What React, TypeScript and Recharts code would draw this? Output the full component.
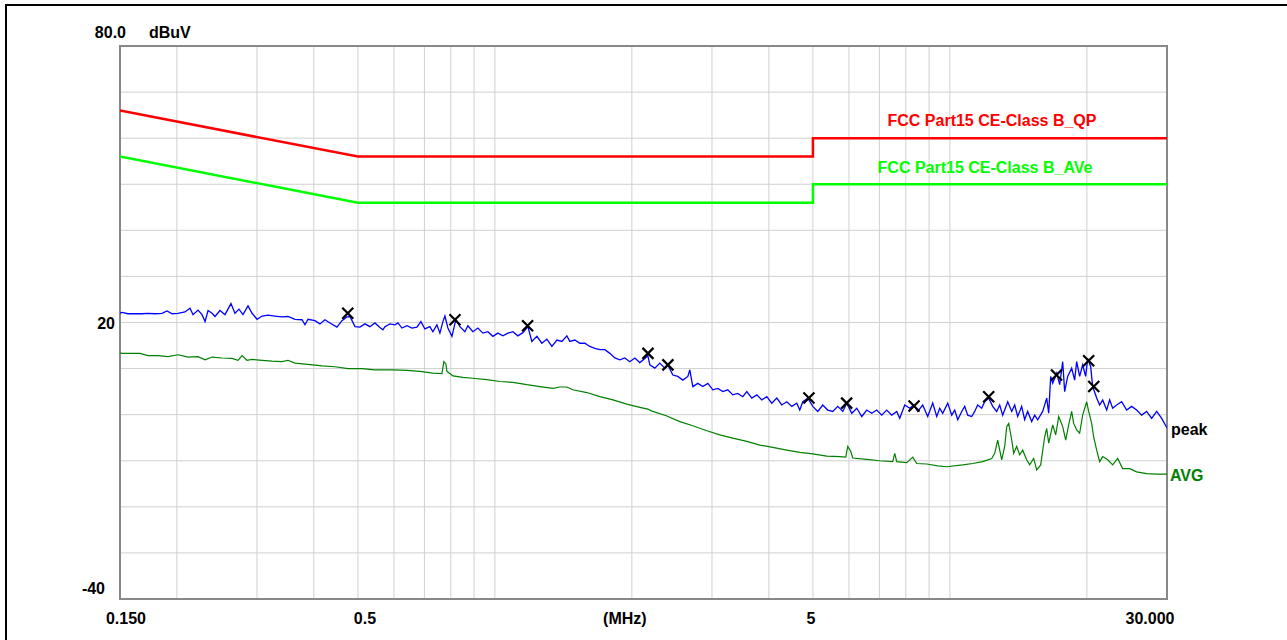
import { ComposedChart, Line, Scatter, XAxis, YAxis, CartesianGrid, ReferenceArea, Customized } from "recharts"

// axis ticks (MHz / dBuV)
const xTicks = [0.15, 0.2, 0.3, 0.4, 0.5, 0.6, 0.7, 0.8, 0.9, 1, 2, 3, 4, 5, 6, 7, 8, 9, 10, 20, 30]
const yTicks = [-40, -30, -20, -10, 0, 10, 20, 30, 40, 50, 60, 70, 80]

// FCC Part15 class B limits
const qpFreq = [0.15, 0.5, 5, 5, 30]
const qpLevel = [66, 56, 56, 60, 60]
const aveFreq = [0.15, 0.5, 5, 5, 30]
const aveLevel = [56, 46, 46, 50, 50]

// peak detector trace
const peakFreq = [
  0.15, 0.1515, 0.1562, 0.1618, 0.1677, 0.1728, 0.1791, 0.1856, 0.1903, 0.1952, 0.2012, 0.2084, 0.2138, 0.2171,
  0.2226, 0.2272, 0.2307, 0.2342, 0.239, 0.2426, 0.2488, 0.2552, 0.263, 0.2684, 0.2739, 0.2795, 0.2867, 0.2926,
  0.3001, 0.3078, 0.3172, 0.3286, 0.3405, 0.351, 0.3636, 0.3768, 0.3825, 0.3884, 0.4023, 0.4126, 0.4232, 0.434,
  0.4497, 0.4612, 0.473, 0.4803, 0.4926, 0.5052, 0.5181, 0.5313, 0.5449, 0.5589, 0.5674, 0.5732, 0.5879, 0.603,
  0.6122, 0.6248, 0.6409, 0.6572, 0.674, 0.6877, 0.7017, 0.7197, 0.7307, 0.7457, 0.7571, 0.7687, 0.7765, 0.7884,
  0.8046, 0.821, 0.8377, 0.8592, 0.8723, 0.8946, 0.9175, 0.941, 0.9652, 0.9899, 1.0153, 1.0414, 1.0682, 1.0955,
  1.1234, 1.1521, 1.1816, 1.2057, 1.2367, 1.2684, 1.3009, 1.3343, 1.3687, 1.4036, 1.4394, 1.4613, 1.4987, 1.5371,
  1.5766, 1.6169, 1.6584, 1.701, 1.7446, 1.7892, 1.835, 1.8818, 1.93, 1.9795, 2.0303, 2.0822, 2.1357, 2.1684,
  2.1904, 2.2467, 2.3041, 2.363, 2.3993, 2.4605, 2.5235, 2.5882, 2.6548, 2.6815, 2.7227, 2.7925, 2.8642, 2.9379,
  3.013, 3.0898, 3.1685, 3.2497, 3.333, 3.4188, 3.5062, 3.578, 3.6698, 3.7643, 3.8604, 3.9587, 4.06, 4.1641,
  4.2706, 4.3803, 4.4924, 4.6078, 4.6781, 4.7501, 4.8722, 4.9968, 5.1242, 5.2548, 5.3894, 5.5275, 5.6699, 5.8148,
  5.9338, 6.086, 6.2428, 6.4022, 6.5653, 6.733, 6.9056, 7.0822, 7.2642, 7.4501, 7.6414, 7.7581, 7.9573, 8.1606,
  8.3286, 8.4965, 8.7145, 8.9377, 9.1669, 9.3549, 9.4973, 9.6432, 9.8904, 10.093, 10.247, 10.405, 10.617, 10.778,
  10.943, 11.166, 11.336, 11.51, 11.745, 11.925, 12.169, 12.418, 12.672, 12.866, 13.063, 13.4, 13.673, 13.879,
  14.093, 14.379, 14.598, 14.822, 15.125, 15.357, 15.593, 15.992, 16.32, 16.486, 16.654, 16.823, 17.169, 17.428,
  17.697, 17.874, 18.148, 18.518, 18.8, 18.993, 19.282, 19.578, 19.876, 20.082, 20.388, 20.595, 21.017, 21.337,
  21.665, 22.111, 22.444, 22.791, 23.253, 23.848, 24.459, 25.085, 25.729, 26.388, 27.065, 27.759, 28.475, 29.202,
  30,
]
const peakLevel = [
  22.0, 22.2, 21.9, 21.9, 21.9, 22.0, 21.9, 22.0, 22.5, 21.9, 22.0, 22.3, 23.1, 21.7,
  22.7, 21.7, 20.2, 22.6, 22.0, 21.3, 22.6, 21.7, 24.1, 22.0, 22.9, 21.7, 23.6, 22.0,
  20.7, 21.4, 21.6, 21.4, 21.2, 21.3, 20.7, 20.6, 19.5, 20.7, 20.4, 19.7, 20.6, 19.9,
  19.0, 20.4, 21.2, 21.3, 19.1, 19.0, 19.7, 19.1, 19.9, 18.9, 18.4, 19.1, 19.7, 19.5,
  19.9, 18.8, 19.3, 18.8, 19.0, 20.2, 18.6, 19.1, 18.0, 19.5, 17.7, 20.2, 21.4, 18.8,
  17.0, 20.7, 19.1, 18.0, 19.3, 18.0, 18.8, 17.7, 18.0, 17.0, 17.7, 17.1, 17.7, 18.0,
  17.1, 17.8, 19.1, 15.9, 17.0, 15.5, 16.4, 14.8, 16.2, 15.9, 17.1, 15.9, 16.2, 15.5,
  15.5, 14.8, 14.4, 14.1, 14.1, 13.3, 12.3, 11.9, 12.3, 11.5, 12.3, 11.3, 12.2, 12.8,
  10.8, 10.1, 11.2, 10.1, 10.8, 8.6, 8.3, 7.5, 8.3, 9.7, 6.1, 6.8, 6.1, 6.8,
  5.4, 5.7, 5.0, 5.4, 4.3, 4.6, 3.9, 5.0, 3.6, 4.3, 3.2, 3.9, 2.5, 3.6,
  2.1, 2.8, 1.8, 2.5, 1.0, 2.8, 3.6, 1.8, 0.7, 2.1, 1.0, 0.7, 1.8, 0.7,
  2.5, 0.3, 1.4, -0.4, 1.0, 0.3, 1.0, -0.1, 1.0, -0.1, 0.7, -0.8, 2.1, 1.4,
  2.1, 0.7, 2.1, -0.4, 2.5, -0.4, 1.4, 0.3, 2.5, -0.1, 1.0, -1.1, 0.7, 1.8,
  -0.1, -0.4, 0.7, 2.1, 1.4, 2.8, 3.6, 1.8, 0.7, 2.1, -0.1, 2.8, 0.7, 2.1,
  -0.4, 1.8, -1.1, 0.7, -1.5, -0.1, -1.1, 0.7, 3.6, 0.3, 8.3, 6.8, 9.0, 6.5,
  11.5, 5.0, 8.3, 10.1, 7.5, 11.5, 8.3, 10.8, 8.3, 12.2, 10.4, 6.1, 3.6, 2.1,
  3.2, 1.0, 3.2, 1.4, 2.1, 2.8, 1.0, 1.8, 1.0, -0.1, 0.7, -0.8, 0.7, -0.8,
  -2.9,
]

// average detector trace
const avgFreq = [
  0.15, 0.1515, 0.166, 0.1728, 0.1818, 0.1913, 0.2012, 0.2117, 0.2226, 0.2307, 0.239, 0.2513, 0.2644, 0.2726,
  0.2781, 0.2852, 0.2926, 0.3078, 0.3237, 0.3405, 0.351, 0.3636, 0.3884, 0.4168, 0.4452, 0.4754, 0.5104, 0.5449,
  0.5969, 0.6409, 0.6842, 0.7307, 0.7648, 0.7726, 0.7805, 0.7844, 0.8087, 0.8507, 0.8946, 0.9603, 1.0256, 1.0955,
  1.1757, 1.2555, 1.3411, 1.3893, 1.4394, 1.4837, 1.5927, 1.701, 1.8169, 1.9497, 2.0822, 2.1684, 2.2241, 2.3871,
  2.5492, 2.7227, 2.9231, 3.1208, 3.333, 3.578, 3.8211, 4.0805, 4.3803, 4.6781, 4.9968, 5.3625, 5.7268, 5.9039,
  5.9639, 6.0555, 6.117, 6.5653, 7.0109, 7.4881, 7.5641, 7.6414, 8.0393, 8.2866, 8.4546, 8.893, 9.4029, 9.8406,
  10.672, 11.222, 11.805, 12.355, 12.544, 12.737, 12.997, 13.196, 13.332, 13.468, 13.673, 13.812, 14.021, 14.234,
  14.452, 14.748, 14.973, 15.28, 15.514, 15.831, 16.154, 16.32, 16.486, 16.823, 17.081, 17.344, 17.697, 17.966,
  18.241, 18.518, 18.707, 18.993, 19.282, 19.578, 19.979, 20.183, 20.49, 20.699, 21.017, 21.337, 21.665, 22.223,
  22.791, 23.372, 23.968, 24.832, 25.729, 27.065, 28.475, 30,
]
const avgLevel = [
  13.4, 13.3, 13.3, 12.8, 12.8, 12.6, 13.0, 12.5, 12.6, 11.9, 12.5, 12.3, 12.2, 11.8,
  12.8, 11.8, 12.0, 11.8, 11.6, 11.5, 11.8, 11.2, 10.9, 10.6, 10.4, 10.0, 10.0, 9.7,
  9.7, 9.6, 9.4, 9.0, 8.9, 11.5, 11.0, 9.4, 8.4, 8.1, 7.9, 7.6, 7.2, 7.0,
  6.5, 6.1, 5.7, 6.0, 6.0, 5.4, 4.8, 3.9, 3.2, 2.3, 1.6, 1.2, 0.7, -0.3,
  -1.5, -2.4, -3.5, -4.4, -5.1, -5.8, -6.6, -7.1, -7.7, -8.2, -8.5, -9.0, -9.1, -9.2,
  -6.9, -8.0, -9.4, -9.7, -10.0, -10.2, -8.4, -10.2, -10.4, -9.2, -10.6, -10.7, -11.1, -11.3,
  -10.9, -10.6, -10.2, -9.5, -8.4, -5.5, -9.8, -6.9, -2.6, -1.9, -5.5, -8.4, -6.9, -8.7,
  -7.7, -9.8, -10.9, -9.5, -12.0, -10.9, -4.8, -3.0, -6.2, -2.2, -4.4, -0.4, -2.6, -5.5,
  -2.2, 0.7, -1.9, -3.3, -4.0, -0.1, 2.8, 0.7, -1.9, -4.8, -7.7, -10.2, -9.1, -9.8,
  -10.9, -9.5, -11.7, -11.7, -12.4, -12.8, -12.9, -12.9,
]

// peak markers (x)
const markerFreq = [0.475, 0.817, 1.18, 2.17, 2.4, 4.9, 5.93, 8.34, 12.17, 17.15, 20.18, 20.71]
const markerLevel = [22.0, 20.6, 19.3, 13.3, 10.8, 3.6, 2.5, 1.9, 3.9, 8.6, 11.7, 6.1]

const toPoints = (fs: number[], vs: number[]) => fs.map((f, i) => ({ f, v: vs[i] }))

const qpData = toPoints(qpFreq, qpLevel)
const aveData = toPoints(aveFreq, aveLevel)
const peakData = toPoints(peakFreq, peakLevel)
const avgData = toPoints(avgFreq, avgLevel)
const markerData = toPoints(markerFreq, markerLevel)

const FONT = "'Liberation Sans', Arial, sans-serif"
const txt = { fontFamily: FONT, fontSize: 16, fontWeight: "bold" as const }

const xLabels: Record<string, [string, number]> = {
  "0.15": ["0.150", 6],
  "0.5": ["0.5", 7],
  "2": ["(MHz)", -7],
  "5": ["5", -2],
  "30": ["30.000", -17],
}

function XTick({ x, payload }: any) {
  const l = xLabels[String(payload.value)]
  if (!l) return <g />
  return (
    <text x={x + l[1]} y={624} textAnchor="middle" fill="#000" {...txt}>
      {l[0]}
    </text>
  )
}

function YTick({ y, payload }: any) {
  const v = payload.value
  if (v === 80)
    return (
      <g>
        <text x={126} y={38} textAnchor="end" fill="#000" {...txt}>80.0</text>
        <text x={149} y={38} textAnchor="start" fill="#000" {...txt}>dBuV</text>
      </g>
    )
  if (v === 20) return <text x={115} y={y + 6} textAnchor="end" fill="#000" {...txt}>20</text>
  if (v === -40) return <text x={105} y={y - 5} textAnchor="end" fill="#000" {...txt}>-40</text>
  return <g />
}

function XMark({ cx, cy }: any) {
  return (
    <path
      d={`M${cx - 5.5},${cy - 5.5}L${cx + 5.5},${cy + 5.5}M${cx + 5.5},${cy - 5.5}L${cx - 5.5},${cy + 5.5}`}
      stroke="#000"
      strokeWidth={2.2}
      fill="none"
    />
  )
}

function TraceLabels() {
  return (
    <g>
      <text x={992} y={126} textAnchor="middle" fill="#ff0000" {...txt}>FCC Part15 CE-Class B_QP</text>
      <text x={985} y={173} textAnchor="middle" fill="#00ff00" {...txt}>FCC Part15 CE-Class B_AVe</text>
      <text x={1171} y={435} fill="#000" {...txt}>peak</text>
      <text x={1170} y={481} fill="#008000" {...txt}>AVG</text>
    </g>
  )
}

export default function App() {
  return (
    <div style={{ position: "absolute", left: 0, top: 0, width: 1287, height: 640, background: "#fff", overflow: "hidden" }}>
      <div
        style={{
          position: "absolute",
          left: 5,
          top: 4,
          width: 1282,
          height: 636,
          borderTop: "2px solid #000",
          borderLeft: "2px solid #000",
        }}
      />
      <div style={{ position: "absolute", left: 0, top: 0 }}>
        <ComposedChart width={1287} height={640} margin={{ top: 46, right: 120, bottom: 11, left: 60 }}>
          <CartesianGrid stroke="#d0d0d0" strokeWidth={1} />
          <XAxis
            dataKey="f"
            type="number"
            scale="log"
            domain={[0.15, 30]}
            allowDataOverflow
            ticks={xTicks}
            interval={0}
            tickLine={false}
            axisLine={false}
            tick={XTick}
            height={30}
          />
          <YAxis
            type="number"
            domain={[-40, 80]}
            allowDataOverflow
            ticks={yTicks}
            interval={0}
            tickLine={false}
            axisLine={false}
            tick={YTick}
            width={60}
          />
          <ReferenceArea x1={0.15} x2={30} y1={-40} y2={80} fill="none" fillOpacity={0} stroke="#888" strokeWidth={2} ifOverflow="visible" />
          <Line data={qpData} dataKey="v" stroke="#ff0000" strokeWidth={2.5} dot={false} activeDot={false} isAnimationActive={false} type="linear" />
          <Line data={aveData} dataKey="v" stroke="#00ff00" strokeWidth={2.5} dot={false} activeDot={false} isAnimationActive={false} type="linear" />
          <Line data={avgData} dataKey="v" stroke="#008000" strokeWidth={1.2} dot={false} activeDot={false} isAnimationActive={false} type="linear" />
          <Line data={peakData} dataKey="v" stroke="#0000ff" strokeWidth={1.3} dot={false} activeDot={false} isAnimationActive={false} type="linear" />
          <Scatter data={markerData} dataKey="v" shape={XMark} isAnimationActive={false} />
          <Customized component={TraceLabels} />
        </ComposedChart>
      </div>
    </div>
  )
}
